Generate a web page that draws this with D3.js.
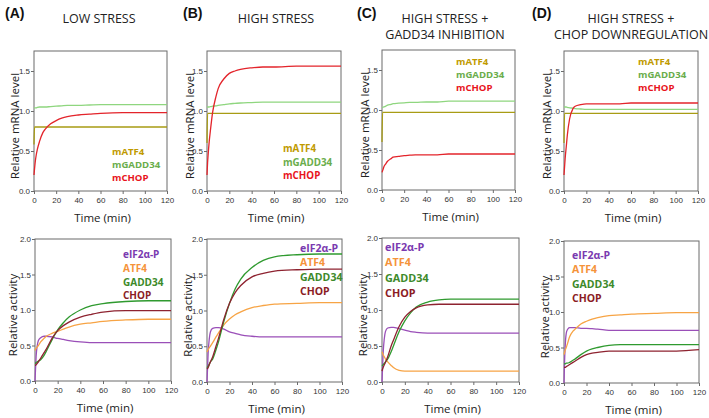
<!DOCTYPE html>
<html lang="en">
<head>
<meta charset="UTF-8">
<title>UPR model panels</title>
<script src="https://d3js.org/d3.v7.min.js"></script>
<style>
  body { margin: 0; background: #fff; }
  svg { display: block; font-family: "Open Sans", "Liberation Sans", sans-serif; }
</style>
</head>
<body>
<svg id="chart" width="709" height="418"></svg>
<script>
// time points (min) shared by every series
var times = [0, 0.5, 1, 2, 3, 5, 8, 10, 15, 20, 25, 30, 40, 50, 60, 80, 100, 120];
var xTicks = [0, 20, 40, 60, 80, 100, 120];
var mrnaTicks = [0, 0.5, 1.0, 1.5];
var actTicks = [0, 0.5, 1.0, 1.5, 2.0];

var panelLetters = ["(A)", "(B)", "(C)", "(D)"];
var panelTitles = [["LOW STRESS"], ["HIGH STRESS"], ["HIGH STRESS +", "GADD34 INHIBITION"], ["HIGH STRESS +", "CHOP DOWNREGULATION"]];
var mrnaNames = ["mATF4", "mGADD34", "mCHOP"];
var actNames = ["eIF2\u03b1-P", "ATF4", "GADD34", "CHOP"];

// relative mRNA levels, one array per panel and species
var mATF4_A = [0.58, 0.80, 0.80, 0.80, 0.80, 0.80, 0.80, 0.80, 0.80, 0.80, 0.80, 0.80, 0.80, 0.80, 0.80, 0.80, 0.80, 0.80];
var mGADD34_A = [1.04, 1.04, 1.04, 1.04, 1.045, 1.05, 1.05, 1.05, 1.055, 1.06, 1.065, 1.07, 1.07, 1.075, 1.08, 1.08, 1.08, 1.08];
var mCHOP_A = [0.20, 0.28, 0.35, 0.45, 0.52, 0.62, 0.73, 0.77, 0.84, 0.88, 0.91, 0.93, 0.95, 0.96, 0.97, 0.98, 0.98, 0.98];

var mATF4_B = [0.60, 0.97, 0.97, 0.97, 0.97, 0.97, 0.97, 0.97, 0.97, 0.97, 0.97, 0.97, 0.97, 0.97, 0.97, 0.97, 0.97, 0.97];
var mGADD34_B = [1.05, 1.05, 1.05, 1.05, 1.055, 1.06, 1.065, 1.07, 1.08, 1.09, 1.095, 1.10, 1.105, 1.11, 1.11, 1.11, 1.11, 1.11];
var mCHOP_B = [0.20, 0.35, 0.45, 0.62, 0.75, 0.98, 1.18, 1.28, 1.40, 1.47, 1.50, 1.52, 1.54, 1.55, 1.55, 1.56, 1.56, 1.56];

var mATF4_C = [0.60, 0.97, 0.97, 0.97, 0.97, 0.97, 0.97, 0.97, 0.97, 0.97, 0.97, 0.97, 0.97, 0.97, 0.97, 0.97, 0.97, 0.97];
var mGADD34_C = [1.03, 1.03, 1.035, 1.04, 1.045, 1.06, 1.07, 1.08, 1.085, 1.09, 1.095, 1.095, 1.10, 1.10, 1.11, 1.11, 1.11, 1.11];
var mCHOP_C = [0.22, 0.24, 0.26, 0.30, 0.32, 0.36, 0.39, 0.41, 0.42, 0.43, 0.435, 0.44, 0.44, 0.44, 0.45, 0.45, 0.45, 0.45];

var mATF4_D = [0.60, 0.97, 0.97, 0.97, 0.97, 0.97, 0.97, 0.97, 0.97, 0.97, 0.97, 0.97, 0.97, 0.97, 0.97, 0.97, 0.97, 0.97];
var mGADD34_D = [1.05, 1.05, 1.05, 1.05, 1.045, 1.04, 1.035, 1.03, 1.025, 1.02, 1.02, 1.02, 1.02, 1.02, 1.02, 1.02, 1.02, 1.02];
var mCHOP_D = [0.20, 0.30, 0.40, 0.55, 0.70, 0.90, 1.03, 1.06, 1.08, 1.09, 1.09, 1.09, 1.09, 1.09, 1.10, 1.10, 1.10, 1.10];

// relative protein activity
var eIF2_A = [0.0, 0.18, 0.35, 0.50, 0.57, 0.61, 0.63, 0.63, 0.62, 0.60, 0.585, 0.57, 0.55, 0.54, 0.54, 0.54, 0.54, 0.54];
var ATF4_A = [0.43, 0.45, 0.46, 0.48, 0.50, 0.55, 0.60, 0.63, 0.67, 0.70, 0.73, 0.76, 0.80, 0.82, 0.84, 0.86, 0.87, 0.87];
var GADD34_A = [0.25, 0.25, 0.26, 0.27, 0.28, 0.30, 0.36, 0.42, 0.58, 0.72, 0.82, 0.90, 1.00, 1.06, 1.09, 1.12, 1.13, 1.13];
var CHOP_A = [0.22, 0.22, 0.23, 0.25, 0.27, 0.32, 0.40, 0.45, 0.60, 0.71, 0.78, 0.83, 0.90, 0.94, 0.97, 0.99, 0.99, 0.99];

var eIF2_B = [0.0, 0.20, 0.40, 0.60, 0.70, 0.75, 0.76, 0.76, 0.74, 0.70, 0.68, 0.66, 0.64, 0.63, 0.63, 0.63, 0.63, 0.63];
var ATF4_B = [0.42, 0.44, 0.45, 0.48, 0.50, 0.55, 0.63, 0.68, 0.80, 0.88, 0.94, 0.98, 1.04, 1.07, 1.09, 1.10, 1.11, 1.11];
var GADD34_B = [0.20, 0.21, 0.22, 0.25, 0.28, 0.32, 0.45, 0.55, 0.85, 1.10, 1.30, 1.44, 1.60, 1.70, 1.75, 1.78, 1.79, 1.79];
var CHOP_B = [0.18, 0.19, 0.20, 0.24, 0.28, 0.35, 0.50, 0.60, 0.88, 1.10, 1.25, 1.35, 1.47, 1.52, 1.55, 1.57, 1.58, 1.58];

var eIF2_C = [0.0, 0.20, 0.40, 0.60, 0.70, 0.75, 0.76, 0.76, 0.74, 0.72, 0.70, 0.69, 0.68, 0.68, 0.68, 0.68, 0.68, 0.68];
var ATF4_C = [0.42, 0.40, 0.38, 0.35, 0.32, 0.28, 0.23, 0.20, 0.16, 0.15, 0.15, 0.15, 0.15, 0.15, 0.15, 0.15, 0.15, 0.15];
var GADD34_C = [0.22, 0.23, 0.24, 0.26, 0.28, 0.32, 0.42, 0.50, 0.70, 0.85, 0.96, 1.04, 1.11, 1.14, 1.15, 1.15, 1.15, 1.15];
var CHOP_C = [0.15, 0.18, 0.20, 0.24, 0.27, 0.35, 0.50, 0.58, 0.77, 0.90, 0.98, 1.03, 1.07, 1.08, 1.08, 1.08, 1.08, 1.08];

var eIF2_D = [0.0, 0.30, 0.50, 0.70, 0.75, 0.78, 0.78, 0.78, 0.77, 0.77, 0.765, 0.76, 0.74, 0.74, 0.74, 0.74, 0.74, 0.74];
var ATF4_D = [0.40, 0.43, 0.46, 0.50, 0.55, 0.65, 0.73, 0.76, 0.83, 0.87, 0.90, 0.92, 0.95, 0.96, 0.97, 0.98, 0.99, 0.99];
var GADD34_D = [0.27, 0.27, 0.27, 0.28, 0.28, 0.29, 0.32, 0.34, 0.40, 0.45, 0.48, 0.50, 0.53, 0.54, 0.54, 0.54, 0.54, 0.54];
var CHOP_D = [0.22, 0.22, 0.22, 0.23, 0.24, 0.26, 0.29, 0.31, 0.36, 0.40, 0.42, 0.43, 0.45, 0.45, 0.45, 0.45, 0.45, 0.47];

var mrnaSeries = [
  [mATF4_A, mGADD34_A, mCHOP_A],
  [mATF4_B, mGADD34_B, mCHOP_B],
  [mATF4_C, mGADD34_C, mCHOP_C],
  [mATF4_D, mGADD34_D, mCHOP_D]
];
var actSeries = [
  [eIF2_A, ATF4_A, GADD34_A, CHOP_A],
  [eIF2_B, ATF4_B, GADD34_B, CHOP_B],
  [eIF2_C, ATF4_C, GADD34_C, CHOP_C],
  [eIF2_D, ATF4_D, GADD34_D, CHOP_D]
];

// styling
var mrnaLineColors = ["#a89c14", "#8fd67f", "#e3242b"];
var mrnaTextColors = ["#c09a00", "#6aad4c", "#e8141c"];
var actLineColors = ["#9a4fb8", "#f7a445", "#2f9a2f", "#8e2330"];
var actTextColors = ["#7a3ab0", "#f5933a", "#3d8a2a", "#8b1c24"];

// layout of each plot frame
var topFrames = [
  {x0: 34, x1: 167, y0: 51, y1: 191},
  {x0: 207, x1: 341, y0: 51, y1: 191},
  {x0: 382, x1: 515, y0: 50, y1: 190},
  {x0: 564, x1: 698, y0: 51, y1: 191}
];
var bottomFrames = [
  {x0: 35, x1: 171, y0: 239, y1: 381},
  {x0: 207, x1: 342, y0: 239, y1: 382},
  {x0: 382, x1: 519, y0: 238, y1: 382},
  {x0: 564, x1: 699, y0: 241, y1: 383}
];
var topLegends = [
  {x: 112, y: 155, dy: 12.8, size: 9.6},
  {x: 283, y: 152, dy: 13.5, size: 9.8},
  {x: 456, y: 65, dy: 13, size: 9.6},
  {x: 638, y: 65, dy: 13, size: 9.6}
];
var bottomLegends = [
  {x: 123, y: 258, dy: 13.8, size: 10},
  {x: 300, y: 252, dy: 14.3, size: 10.5},
  {x: 385, y: 251, dy: 15.3, size: 10.8},
  {x: 572, y: 259, dy: 14.3, size: 10.5}
];
var letterX = [5, 183, 357, 532];
var titleX = [99, 276, 445, 631];
var ylabX = [15, 190, 365, 547];

var svg = d3.select("#chart");

function drawPanel(frame, yMax, yTicks, series, lineColors, names, textColors, legend, ylab, labX) {
  var x = d3.scaleLinear().domain([0, 120]).range([frame.x0, frame.x1]);
  var y = d3.scaleLinear().domain([0, yMax]).range([frame.y1, frame.y0]);
  var g = svg.append("g");

  g.append("rect")
    .attr("x", frame.x0).attr("y", frame.y0)
    .attr("width", frame.x1 - frame.x0).attr("height", frame.y1 - frame.y0)
    .attr("fill", "none").attr("stroke", "#6b6b6b").attr("stroke-width", 1);

  var xAxis = g.append("g")
    .attr("transform", "translate(0," + frame.y1 + ")")
    .call(d3.axisBottom(x).tickValues(xTicks).tickSize(3).tickSizeOuter(0));
  var yAxis = g.append("g")
    .attr("transform", "translate(" + frame.x0 + ",0)")
    .call(d3.axisLeft(y).tickValues(yTicks).tickFormat(d3.format(".1f")).tickSize(3).tickSizeOuter(0));
  [xAxis, yAxis].forEach(function(a) {
    a.select(".domain").remove();
    a.selectAll("line").attr("stroke", "#6b6b6b");
    a.selectAll("text").attr("font-size", 8).attr("fill", "#333")
      .attr("font-family", "'Liberation Sans', Arial, sans-serif");
  });
  yAxis.selectAll("text").attr("x", -4);
  xAxis.selectAll("text").attr("y", 6);

  var line = d3.line()
    .x(function(d, i) { return x(times[i]); })
    .y(function(d) { return y(d); })
    .curve(d3.curveMonotoneX);

  series.forEach(function(s, i) {
    g.append("path").datum(s)
      .attr("d", line)
      .attr("fill", "none")
      .attr("stroke", lineColors[i])
      .attr("stroke-width", 1.3);
  });

  names.forEach(function(n, i) {
    g.append("text")
      .attr("x", legend.x).attr("y", legend.y + i * legend.dy)
      .attr("font-size", legend.size).attr("font-weight", "bold")
      .attr("fill", textColors[i])
      .text(n);
  });

  var cy = (frame.y0 + frame.y1) / 2 + 5;
  g.append("text")
    .attr("transform", "translate(" + (labX + 4) + "," + cy + ") rotate(-90)")
    .attr("text-anchor", "middle")
    .attr("font-size", 11.5).attr("fill", "#222")
    .text(ylab);

  g.append("text")
    .attr("x", (frame.x0 + frame.x1) / 2 + 2)
    .attr("y", frame.y1 + 31)
    .attr("text-anchor", "middle")
    .attr("font-size", 11.5).attr("fill", "#222")
    .text("Time (min)");
}

for (var p = 0; p < 4; p++) {
  drawPanel(topFrames[p], 1.75, mrnaTicks, mrnaSeries[p], mrnaLineColors, mrnaNames, mrnaTextColors, topLegends[p], "Relative mRNA level", ylabX[p]);
  drawPanel(bottomFrames[p], 2.0, actTicks, actSeries[p], actLineColors, actNames, actTextColors, bottomLegends[p], "Relative activity", ylabX[p] - 2);

  svg.append("text")
    .attr("x", letterX[p]).attr("y", 18)
    .attr("font-size", 14).attr("font-weight", "bold").attr("fill", "#111")
    .attr("font-family", "'Liberation Sans', Arial, sans-serif")
    .text(panelLetters[p]);

  panelTitles[p].forEach(function(t, i) {
    svg.append("text")
      .attr("x", titleX[p]).attr("y", 23 + i * 16)
      .attr("text-anchor", "middle")
      .attr("font-size", 12.5).attr("fill", "#222")
      .text(t);
  });
}
</script>
</body>
</html>
